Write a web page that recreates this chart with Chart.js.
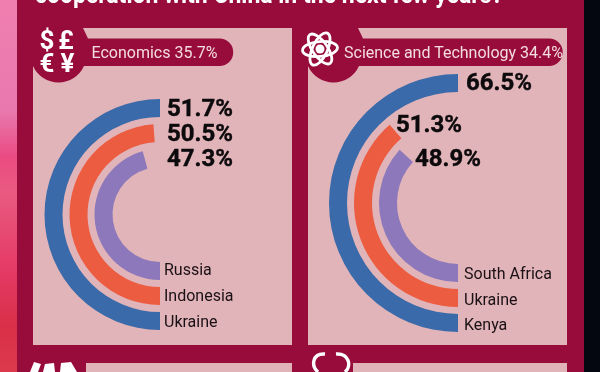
<!DOCTYPE html>
<html lang="en">
<head>
  <meta charset="UTF-8" />
  <title>Cooperation with China</title>
  <style>
    html, body { margin: 0; padding: 0; }
    body {
      width: 600px;
      height: 372px;
      position: relative;
      overflow: hidden;
      background: #980c3b;
      font-family: Roboto, Arial, sans-serif;
    }
    .side { position: absolute; top: 0; height: 372px; }
    #sideLeft {
      left: 0;
      width: 17px;
      background: linear-gradient(180deg, #f07fb0 0%, #e878ae 30%, #ea4c82 42%, #e95a80 52%, #e43a66 72%, #d92f48 88%, #dc3a4c 100%);
    }
    #sideRight { left: 584px; width: 16px; background: #04070f; }
    .panel { position: absolute; background: #e0b4b8; }
    canvas { position: absolute; }
    svg { position: absolute; left: 0; top: 0; }
    .pct { font: 700 24px Roboto, Arial, sans-serif; fill: #0c0a0c; stroke: #0c0a0c; stroke-width: 0.4px; }
    .cat { font: 400 16px Roboto, Arial, sans-serif; fill: #1a1015; }
    .head { font: 400 16px Roboto, Arial, sans-serif; fill: #f4dde0; }
    .money { font: 700 26px Roboto, Arial, sans-serif; fill: #fff; text-anchor: middle; }
    .title { font: 700 26px Roboto, Arial, sans-serif; fill: #fff; }
  </style>
</head>
<body>
  <div class="side" id="sideLeft"></div>
  <div class="side" id="sideRight"></div>

  <div class="panel" style="left:33px;top:28px;width:259px;height:317px"></div>
  <div class="panel" style="left:308px;top:28px;width:259px;height:317px"></div>
  <div class="panel" style="left:86px;top:363px;width:206px;height:9px"></div>
  <div class="panel" style="left:353px;top:363px;width:214px;height:9px"></div>

  <svg width="600" height="372" id="deco">
    <!-- header tabs -->
    <path d="M33 28H83L88 38.5H219.5a13.75 13.75 0 0 1 0 27.5H84A28 28 0 0 1 33 66Z" fill="#980c3b"/>
    <path d="M308 28H358L363 38.5H549a13.75 13.75 0 0 1 0 27.5H359A28 28 0 0 1 308 66Z" fill="#980c3b"/>
  </svg>

  <canvas id="ecoChart" width="240" height="241" style="left:40px;top:94px"></canvas>
  <canvas id="sciChart" width="270" height="270" style="left:323px;top:68px"></canvas>

  <svg width="600" height="372" id="labels">
    <text class="title" x="35" y="3" id="titleText" textLength="468" lengthAdjust="spacingAndGlyphs"></text>

    <text class="money" x="47" y="49">$</text>
    <text class="money" x="66" y="49">£</text>
    <text class="money" x="47" y="71.5">€</text>
    <text class="money" x="67.5" y="71.5">¥</text>

    <g fill="none" stroke="#fff" stroke-width="2.8" transform="rotate(-5 320 49)">
      <ellipse cx="320" cy="49" rx="17.5" ry="7.5"/>
      <ellipse cx="320" cy="49" rx="17.5" ry="7.5" transform="rotate(60 320 49)"/>
      <ellipse cx="320" cy="49" rx="17.5" ry="7.5" transform="rotate(-60 320 49)"/>
    </g>
    <circle cx="320" cy="49" r="4.5" fill="#fff"/>

    <!-- icons of the next row, cut off by the window -->
    <path d="M30 372L34 362L41 364L38 372ZM43 372L45 364L54 363L55 372ZM60 372L61 363L71 362L77 372Z" fill="#fff"/>
    <path d="M325 354C312 353 311 366 318 372M336 354C349 353 352 366 345 372" fill="none" stroke="#fff" stroke-width="3.4"/>
  </svg>

  <script src="https://cdn.jsdelivr.net/npm/chart.js"></script>
  <script>
    const titleLine = "cooperation with China in the next few years?";

    const ecoHeader = "Economics 35.7%";
    const ecoCountries = ["Ukraine", "Indonesia", "Russia"];
    const ecoValues = [51.7, 50.5, 47.3];

    const sciHeader = "Science and Technology 34.4%";
    const sciCountries = ["Kenya", "Ukraine", "South Africa"];
    const sciValues = [66.5, 51.3, 48.9];

    const ringColors = ["#3a6aa9", "#ec5c40", "#8c78bb"];
    const ringWidth = 18;
    const ringGap = 7;

    const NS = "http://www.w3.org/2000/svg";
    const labels = document.getElementById("labels");

    function addText(cls, text, x, y) {
      const t = document.createElementNS(NS, "text");
      t.setAttribute("class", cls);
      t.setAttribute("x", x);
      t.setAttribute("y", y);
      t.textContent = text;
      labels.appendChild(t);
    }

    // the largest answer of a panel always fills half a circle
    function drawRings(id, values, radius) {
      const full = Math.max(...values) * 2;
      const datasets = [];
      values.forEach((v, i) => {
        datasets.push({
          data: [v, full - v],
          backgroundColor: [ringColors[i], "transparent"],
          borderWidth: 0,
          weight: ringWidth
        });
        if (i < values.length - 1) {
          // empty ring, only there to keep the gap
          datasets.push({ data: [1], backgroundColor: ["transparent"], borderWidth: 0, weight: ringGap });
        }
      });
      const inner = radius - ringWidth * 3 - ringGap * 2;
      new Chart(document.getElementById(id), {
        type: "doughnut",
        data: { datasets: datasets },
        options: {
          responsive: false,
          maintainAspectRatio: false,
          animation: false,
          rotation: 180,
          radius: radius,
          cutout: (inner / radius * 100) + "%",
          plugins: { legend: { display: false }, tooltip: { enabled: false } }
        }
      });
    }

    drawRings("ecoChart", ecoValues, 115.5);
    drawRings("sciChart", sciValues, 129);

    document.getElementById("titleText").textContent = titleLine;

    addText("head", ecoHeader, 91.5, 58);
    addText("head", sciHeader, 344, 58);

    addText("pct", ecoValues[0] + "%", 167, 116);
    addText("pct", ecoValues[1] + "%", 167, 141);
    addText("pct", ecoValues[2] + "%", 167, 166);
    addText("cat", ecoCountries[2], 164, 275);
    addText("cat", ecoCountries[1], 164, 301);
    addText("cat", ecoCountries[0], 164, 327);

    addText("pct", sciValues[0] + "%", 466, 90);
    addText("pct", sciValues[1] + "%", 396, 132);
    addText("pct", sciValues[2] + "%", 415, 166);
    addText("cat", sciCountries[2], 464, 279);
    addText("cat", sciCountries[1], 464, 305);
    addText("cat", sciCountries[0], 464, 330);
  </script>
</body>
</html>
